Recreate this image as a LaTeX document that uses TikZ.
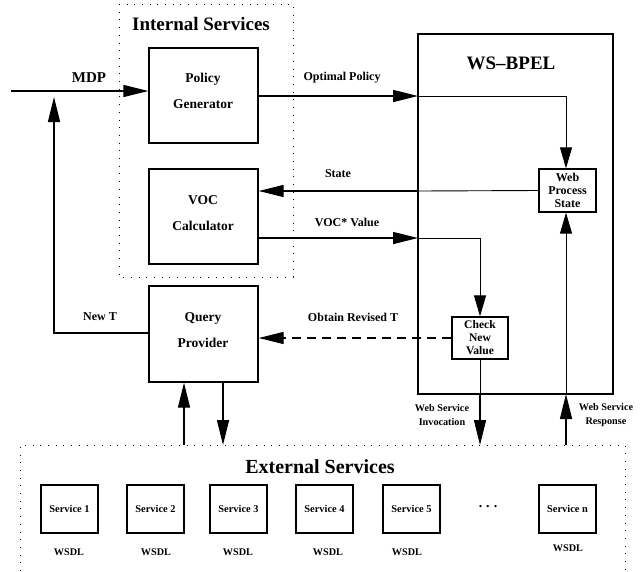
\documentclass[tikz,border=0pt]{standalone}
\usepackage{fontspec}
\setmainfont{Liberation Serif}
\usetikzlibrary{arrows.meta}
\begin{document}
\begin{tikzpicture}[x=1pt,y=-1pt,
  box/.style={draw,line width=1.3pt,inner sep=0pt},
  dotbox/.style={line width=1pt,dash pattern=on 1pt off 6.7pt},
  thickln/.style={line width=1.3pt},
  thinln/.style={line width=0.9pt},
  bigtip/.style={-{Triangle[length=25pt,width=12pt]}},
  midtip/.style={-{Triangle[length=21pt,width=12pt]}},
  lbl/.style={font=\bfseries\fontsize{12}{14}\selectfont,inner sep=0pt},
  boxtxt/.style={font=\bfseries\fontsize{13.5}{26}\selectfont,align=center,inner sep=0pt},
  smalltxt/.style={font=\bfseries\fontsize{12}{13}\selectfont,align=center,inner sep=0pt},
  svc/.style={box,minimum width=57pt,minimum height=48pt,font=\bfseries\fontsize{10.4}{12}\selectfont},
  wsdl/.style={font=\bfseries\fontsize{10.2}{12}\selectfont,inner sep=0pt},
  title/.style={font=\bfseries\fontsize{19}{22}\selectfont,inner sep=0pt}
]
\useasboundingbox (0,0) rectangle (642,571);
% dotted groups
\draw[dotbox] (119,4) rectangle (293,277);
\draw[dotbox] (20,571) -- (20,445) -- (625,445) -- (625,571);
\node[title] (intl) at (201,24) {Internal Services};
\node[title,font=\bfseries\fontsize{20}{22}\selectfont] (extl) at (320,467) {External Services};

% internal boxes
\node[box,minimum width=109pt,minimum height=95pt] (pg) at (203.5,95.5) {};
\node[boxtxt] (pgt) at (203,91) {Policy\\Generator};
\node[box,minimum width=109pt,minimum height=95pt] (voc) at (203.5,216.5) {};
\node[boxtxt] (voct) at (203,213) {VOC\\Calculator};
\node[box,minimum width=109pt,minimum height=96pt] (qp) at (203.5,334) {};
\node[boxtxt] (qpt) at (203,330) {Query\\Provider};

% WS-BPEL
\node[box,minimum width=195pt,minimum height=360pt] (bpel) at (515.5,214) {};
\node[title] (bpelt) at (511,63) {WS--BPEL};
\node[box,minimum width=57pt,minimum height=43pt,smalltxt] (wps) at (567.5,190.5) {Web\\Process\\State};
\node[box,minimum width=56pt,minimum height=42pt,smalltxt,font=\bfseries\fontsize{11.6}{13}\selectfont] (cnv) at (480,338) {Check\\New\\Value};

% services
\node[svc] (s1) at (69.5,509) {Service 1};
\node[svc] (s2) at (155.5,509) {Service 2};
\node[svc] (s3) at (238.5,509) {Service 3};
\node[svc] (s4) at (324.5,509) {Service 4};
\node[svc] (s5) at (411.5,509) {Service 5};
\node[svc] (sn) at (567.5,509) {Service n};
\node[font=\bfseries\fontsize{14}{14}\selectfont,inner sep=0pt] (dots) at (488,507) {.\hspace{4pt}.\hspace{4pt}.};
\node[wsdl] (w1) at (69,552) {WSDL};
\node[wsdl] (w2) at (156,552) {WSDL};
\node[wsdl] (w3) at (238,552) {WSDL};
\node[wsdl] (w4) at (328,552) {WSDL};
\node[wsdl] (w5) at (407,552) {WSDL};
\node[wsdl] (wn) at (568,548) {WSDL};

% coordinates
\coordinate (mdpin) at (11,91);
\coordinate (newtc) at (54,333);
\coordinate (newtup) at (54,97);
\coordinate (opin) at (418,96);
\coordinate (opc) at (566,96);
\coordinate (stin) at (418,191);
\coordinate (vocin) at (418,238);
\coordinate (vocc) at (480,238);
\coordinate (invb) at (480,394);
\coordinate (invext) at (480,445);
\coordinate (respext) at (566,445);
\coordinate (respb) at (566,394);
\coordinate (qpup) at (184,445);
\coordinate (qpdn) at (223,445);

% MDP
\draw[thickln,bigtip] (mdpin) -- (pg.west |- mdpin);
\node[lbl,font=\bfseries\fontsize{15}{16}\selectfont] (mdpl) at (89,78) {MDP};
% New T
\draw[thickln,bigtip] (qp.west |- newtc) -- (newtc) -- (newtup);
\node[lbl] (newtl) at (100,317) {New T};
% Optimal policy
\draw[thickln,bigtip] (pg.east |- opin) -- (opin);
\draw[thinln,midtip] (opin) -- (opc) -- (wps.north -| opc);
\node[lbl] (opl) at (342,78) {Optimal Policy};
% State
\draw[thinln] (wps.west) -- (stin);
\draw[thickln,bigtip] (stin) -- (voc.east |- stin);
\node[lbl] (stl) at (338,174) {State};
% VOC* value
\draw[thickln,bigtip] (voc.east |- vocin) -- (vocin);
\draw[thinln,midtip] (vocin) -- (vocc) -- (cnv.north);
\node[lbl] (vocl) at (347,222) {VOC* Value};
% Obtain revised T
\draw[thickln,bigtip,dash pattern=on 9pt off 6pt] (cnv.west) -- (qp.east |- cnv.west);
\node[lbl] (orl) at (353,317) {Obtain Revised T};
% invocation
\draw[thinln] (cnv.south) -- (invb);
\draw[thickln,bigtip] (invb) -- (invext);
\node[lbl,align=center,font=\bfseries\fontsize{10.2}{14}\selectfont] (invl) at (442,415) {Web Service\\Invocation};
% response
\draw[thickln,bigtip] (respext) -- (respb);
\draw[thinln,midtip] (respb) -- (wps.south -| respb);
\node[lbl,align=center,font=\bfseries\fontsize{10.2}{14}\selectfont] (resl) at (606,415) {Web Service\\Response};
% query provider <-> external
\draw[thickln,bigtip] (qpup) -- (qp.south -| qpup);
\draw[thickln,bigtip] (qp.south -| qpdn) -- (qpdn);
\end{tikzpicture}
\end{document}
